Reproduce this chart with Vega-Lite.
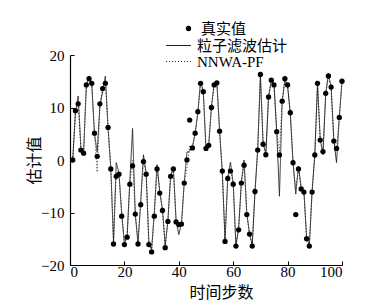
{
"$schema": "https://vega.github.io/schema/vega-lite/v6.json",
"width": 272, "height": 210,
"autosize": {"type": "none"},
"padding": {"left": 70, "top": 55, "right": 33, "bottom": 41},
"background": "white",
"config": {
  "view": {"stroke": null},
  "axis": {"grid": false, "domainColor": "black", "domainWidth": 1.2, "tickColor": "black", "tickWidth": 1, "tickSize": -4,
    "labelFont": "Liberation Serif", "labelFontSize": 15, "labelColor": "black",
    "titleFont": "Noto Sans CJK SC", "titleFontSize": 16, "titleFontWeight": "normal", "titleColor": "black"},
  "legend": {"padding": 0, "rowPadding": 0, "labelFont": "Liberation Serif, Noto Sans CJK SC", "labelFontSize": 15, "labelColor": "black", "title": null}
},
"data": {"values": [
{"t":1,"truth":0,"pf":0,"nnwa":0},
{"t":2,"truth":9.4,"pf":9.0,"nnwa":9.2},
{"t":3,"truth":10.7,"pf":12.2,"nnwa":11.0},
{"t":4,"truth":1.9,"pf":2.5,"nnwa":2.0},
{"t":5,"truth":1.3,"pf":1.5,"nnwa":1.0},
{"t":6,"truth":14.3,"pf":14.0,"nnwa":14.5},
{"t":7,"truth":15.5,"pf":16.0,"nnwa":15.3},
{"t":8,"truth":14.6,"pf":14.5,"nnwa":14.4},
{"t":9,"truth":5.1,"pf":5.0,"nnwa":4.8},
{"t":10,"truth":0.7,"pf":1.5,"nnwa":-2.3},
{"t":11,"truth":10.7,"pf":10.5,"nnwa":10.2},
{"t":12,"truth":13.6,"pf":13.0,"nnwa":13.8},
{"t":13,"truth":14.6,"pf":16.0,"nnwa":15.0},
{"t":14,"truth":6.2,"pf":6.0,"nnwa":6.3},
{"t":15,"truth":-1.7,"pf":-1.5,"nnwa":-1.8},
{"t":16,"truth":-16.0,"pf":-15.5,"nnwa":-15.8},
{"t":17,"truth":-3.1,"pf":-0.5,"nnwa":-2.5},
{"t":18,"truth":-2.7,"pf":-2.5,"nnwa":-2.8},
{"t":19,"truth":-10.7,"pf":-10.0,"nnwa":-10.5},
{"t":20,"truth":-16.1,"pf":-16.0,"nnwa":-15.8},
{"t":21,"truth":-14.7,"pf":-14.5,"nnwa":-14.6},
{"t":22,"truth":-4.6,"pf":-4.0,"nnwa":-4.5},
{"t":23,"truth":-1.1,"pf":6.0,"nnwa":0.0},
{"t":24,"truth":-10.3,"pf":-10.5,"nnwa":-10.0},
{"t":25,"truth":-16.0,"pf":-15.8,"nnwa":-15.6},
{"t":26,"truth":-8.5,"pf":-8.0,"nnwa":-8.2},
{"t":27,"truth":-0.3,"pf":1.0,"nnwa":0.0},
{"t":28,"truth":-2.7,"pf":-2.5,"nnwa":-2.6},
{"t":29,"truth":-16.1,"pf":-15.8,"nnwa":-16.0},
{"t":30,"truth":-17.5,"pf":-17.0,"nnwa":-17.2},
{"t":31,"truth":-10.7,"pf":-10.0,"nnwa":-10.5},
{"t":32,"truth":-1.7,"pf":-0.9,"nnwa":-1.5},
{"t":33,"truth":-6.3,"pf":-6.0,"nnwa":-6.2},
{"t":34,"truth":-9.6,"pf":-9.4,"nnwa":-9.5},
{"t":35,"truth":-16.7,"pf":-16.3,"nnwa":-16.5},
{"t":36,"truth":-11.7,"pf":-11.5,"nnwa":-11.6},
{"t":37,"truth":-3.1,"pf":-3.0,"nnwa":-3.0},
{"t":38,"truth":-1.7,"pf":-1.5,"nnwa":-1.8},
{"t":39,"truth":-11.8,"pf":-11.5,"nnwa":-11.6},
{"t":40,"truth":-12.3,"pf":-14.2,"nnwa":-12.8},
{"t":41,"truth":-12.2,"pf":-12.0,"nnwa":-12.4},
{"t":42,"truth":-4.4,"pf":-4.2,"nnwa":-4.5},
{"t":43,"truth":0.0,"pf":1.5,"nnwa":-1.5},
{"t":44,"truth":7.6,"pf":1.7,"nnwa":2.8},
{"t":45,"truth":2.3,"pf":2.5,"nnwa":2.0},
{"t":46,"truth":5.1,"pf":5.0,"nnwa":5.3},
{"t":47,"truth":9.2,"pf":9.0,"nnwa":9.1},
{"t":48,"truth":14.6,"pf":15.0,"nnwa":14.6},
{"t":49,"truth":13.0,"pf":13.2,"nnwa":13.0},
{"t":50,"truth":2.2,"pf":2.0,"nnwa":2.3},
{"t":51,"truth":2.8,"pf":3.0,"nnwa":2.7},
{"t":52,"truth":10.0,"pf":10.2,"nnwa":9.8},
{"t":53,"truth":14.3,"pf":14.5,"nnwa":14.2},
{"t":54,"truth":14.7,"pf":14.8,"nnwa":14.6},
{"t":55,"truth":5.5,"pf":5.6,"nnwa":5.3},
{"t":56,"truth":-2.1,"pf":-2.5,"nnwa":-2.2},
{"t":57,"truth":-15.5,"pf":-15.2,"nnwa":-15.4},
{"t":58,"truth":-3.5,"pf":-3.3,"nnwa":-3.6},
{"t":59,"truth":-2.1,"pf":-0.4,"nnwa":-1.8},
{"t":60,"truth":-4.6,"pf":-4.5,"nnwa":-4.4},
{"t":61,"truth":-16.4,"pf":-16.2,"nnwa":-16.3},
{"t":62,"truth":-13.3,"pf":-13.0,"nnwa":-13.2},
{"t":63,"truth":-4.4,"pf":-4.2,"nnwa":-4.5},
{"t":64,"truth":-1.0,"pf":0.0,"nnwa":-0.8},
{"t":65,"truth":-10.4,"pf":-10.2,"nnwa":-10.3},
{"t":66,"truth":-14.1,"pf":-14.0,"nnwa":-14.2},
{"t":67,"truth":-16.4,"pf":-16.2,"nnwa":-16.3},
{"t":68,"truth":-6.0,"pf":-6.2,"nnwa":-6.0},
{"t":69,"truth":1.9,"pf":2.0,"nnwa":1.8},
{"t":70,"truth":16.3,"pf":16.0,"nnwa":16.2},
{"t":71,"truth":3.0,"pf":3.2,"nnwa":3.1},
{"t":72,"truth":1.0,"pf":1.2,"nnwa":0.8},
{"t":73,"truth":12.0,"pf":12.2,"nnwa":12.0},
{"t":74,"truth":15.2,"pf":15.0,"nnwa":15.1},
{"t":75,"truth":14.3,"pf":14.5,"nnwa":14.2},
{"t":76,"truth":5.4,"pf":5.5,"nnwa":5.3},
{"t":77,"truth":0.95,"pf":-6.9,"nnwa":1.5},
{"t":78,"truth":11.2,"pf":11.0,"nnwa":11.2},
{"t":79,"truth":15.5,"pf":15.3,"nnwa":15.4},
{"t":80,"truth":14.3,"pf":14.0,"nnwa":14.3},
{"t":81,"truth":9.0,"pf":8.8,"nnwa":9.0},
{"t":82,"truth":-0.5,"pf":-0.5,"nnwa":-0.6},
{"t":83,"truth":-10.4,"pf":-6.5,"nnwa":-5.5},
{"t":84,"truth":-1.7,"pf":-1.2,"nnwa":-1.6},
{"t":85,"truth":-5.5,"pf":-5.3,"nnwa":-5.4},
{"t":86,"truth":-6.1,"pf":-6.0,"nnwa":-6.2},
{"t":87,"truth":-15.0,"pf":-14.8,"nnwa":-15.0},
{"t":88,"truth":-16.4,"pf":-16.2,"nnwa":-16.3},
{"t":89,"truth":-6.1,"pf":-6.0,"nnwa":-6.1},
{"t":90,"truth":0.95,"pf":1.0,"nnwa":0.9},
{"t":91,"truth":14.6,"pf":14.5,"nnwa":14.4},
{"t":92,"truth":3.8,"pf":4.0,"nnwa":3.6},
{"t":93,"truth":1.6,"pf":1.0,"nnwa":1.8},
{"t":94,"truth":12.7,"pf":12.5,"nnwa":12.6},
{"t":95,"truth":16.0,"pf":16.5,"nnwa":15.8},
{"t":96,"truth":13.9,"pf":13.8,"nnwa":14.0},
{"t":97,"truth":3.6,"pf":3.8,"nnwa":3.5},
{"t":98,"truth":2.2,"pf":-0.5,"nnwa":2.0},
{"t":99,"truth":8.1,"pf":8.0,"nnwa":8.3},
{"t":100,"truth":15.0,"pf":15.0,"nnwa":15.0}
]},
"layer": [
  {"transform": [{"fold": ["pf", "nnwa"], "as": ["series", "value"]}],
   "mark": {"type": "line", "color": "#1a1a1a", "strokeWidth": 0.9},
   "encoding": {
     "x": {"field": "t", "type": "quantitative", "scale": {"domain": [0, 100]},
           "axis": {"values": [0, 20, 40, 60, 80, 100], "title": "时间步数", "labelPadding": 3, "titlePadding": 5, "titleX": 151}},
     "y": {"field": "value", "type": "quantitative", "scale": {"domain": [-20, 20]},
           "axis": {"values": [-20, -15, -10, -5, 0, 5, 10, 15, 20], "title": "估计值", "labelPadding": 10, "titlePadding": -2}},
     "strokeDash": {"field": "series", "type": "nominal",
           "scale": {"domain": ["pf", "nnwa"], "range": [[1, 0], [1, 2]]},
           "legend": {"orient": "none", "legendX": 101, "legendY": -17, "title": null,
                      "labelExpr": "datum.label == 'pf' ? '粒子滤波估计' : 'NNWA-PF'",
                      "symbolType": "M-3,0H3", "symbolSize": 69, "symbolStrokeColor": "#1a1a1a", "symbolStrokeWidth": 1, "labelOffset": 11}}
   }},
  {"mark": {"type": "point", "filled": true, "color": "black", "size": 28, "opacity": 1},
   "encoding": {
     "x": {"field": "t", "type": "quantitative", "scale": {"domain": [0, 100]}},
     "y": {"field": "truth", "type": "quantitative", "scale": {"domain": [-20, 20]}, "axis": {"title": "估计值"}},
     "shape": {"datum": "真实值", "scale": {"range": ["circle"]},
           "legend": {"orient": "none", "legendX": 111, "legendY": -34, "title": null, "symbolSize": 28, "symbolFillColor": "black", "symbolStrokeWidth": 0, "labelOffset": 5}}
   }}
]
}
